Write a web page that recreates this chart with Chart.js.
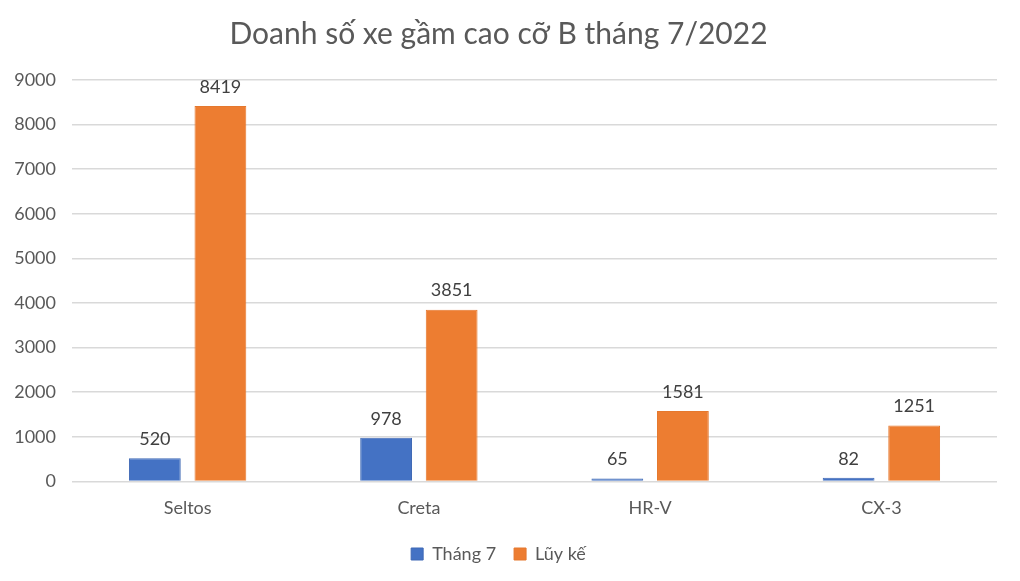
<!DOCTYPE html>
<html>
<head>
<meta charset="utf-8">
<script src="https://cdn.jsdelivr.net/npm/chart.js@4"></script>
<style>
  html, body { margin: 0; padding: 0; background: #fff; }
  #wrap { width: 1020px; height: 581px; }
</style>
</head>
<body>
<div id="wrap"><canvas id="chart"></canvas></div>
<script>
// Data
const categories = ['Seltos', 'Creta', 'HR-V', 'CX-3'];
const thang7 = [520, 978, 65, 82];
const luyKe = [8419, 3851, 1581, 1251];
const yTicks = [0, 1000, 2000, 3000, 4000, 5000, 6000, 7000, 8000, 9000];

const FONT = 'Lato, "Open Sans", sans-serif';

// Draw value labels above each bar
const barLabels = {
    id: 'barLabels',
    afterDatasetsDraw(chart) {
        const ctx = chart.ctx;
        ctx.save();
        ctx.font = '18px ' + FONT;
        ctx.fillStyle = '#404040';
        ctx.textAlign = 'center';
        ctx.textBaseline = 'bottom';
        chart.data.datasets.forEach((ds, i) => {
            chart.getDatasetMeta(i).data.forEach((bar, j) => {
                ctx.fillText(ds.data[j], bar.x, bar.y - 10);
            });
        });
        ctx.restore();
    }
};

new Chart(document.getElementById('chart'), {
    type: 'bar',
    data: {
        labels: categories,
        datasets: [
            {
                label: 'Tháng 7',
                data: thang7,
                backgroundColor: '#4472C4',
                borderColor: '#3F69B5',
                borderWidth: 1
            },
            {
                label: 'Lũy kế',
                data: luyKe,
                backgroundColor: '#ED7D31',
                borderColor: '#E5782E',
                borderWidth: 1
            }
        ]
    },
    options: {
        responsive: true,
        maintainAspectRatio: false,
        animation: false,
        devicePixelRatio: 1,
        layout: { padding: { left: 0, right: 23, top: 0, bottom: 8 } },
        datasets: {
            bar: { categoryPercentage: 0.567, barPercentage: 0.79 }
        },
        plugins: {
            title: {
                display: true,
                text: 'Doanh số xe gầm cao cỡ B tháng 7/2022',
                color: '#595959',
                font: { family: FONT, size: 30, weight: 'normal' },
                padding: { top: 16, bottom: 28 }
            },
            legend: {
                position: 'bottom',
                labels: {
                    color: '#595959',
                    font: { family: FONT, size: 18 },
                    boxWidth: 12,
                    boxHeight: 12,
                    padding: 18
                }
            },
            tooltip: { enabled: false }
        },
        scales: {
            x: {
                grid: { display: false },
                border: { display: false },
                ticks: {
                    color: '#595959',
                    font: { family: FONT, size: 18 },
                    padding: 8
                }
            },
            y: {
                min: 0,
                max: 9000,
                afterBuildTicks(axis) {
                    axis.ticks = yTicks.map(v => ({ value: v }));
                },
                afterFit(axis) { axis.width = 72; },
                grid: { color: '#D9D9D9', lineWidth: 1.5, drawTicks: false },
                border: { display: false },
                ticks: {
                    color: '#595959',
                    font: { family: FONT, size: 18 },
                    padding: 16,
                    callback: v => String(v)
                }
            }
        }
    },
    plugins: [barLabels]
});
</script>
</body>
</html>
